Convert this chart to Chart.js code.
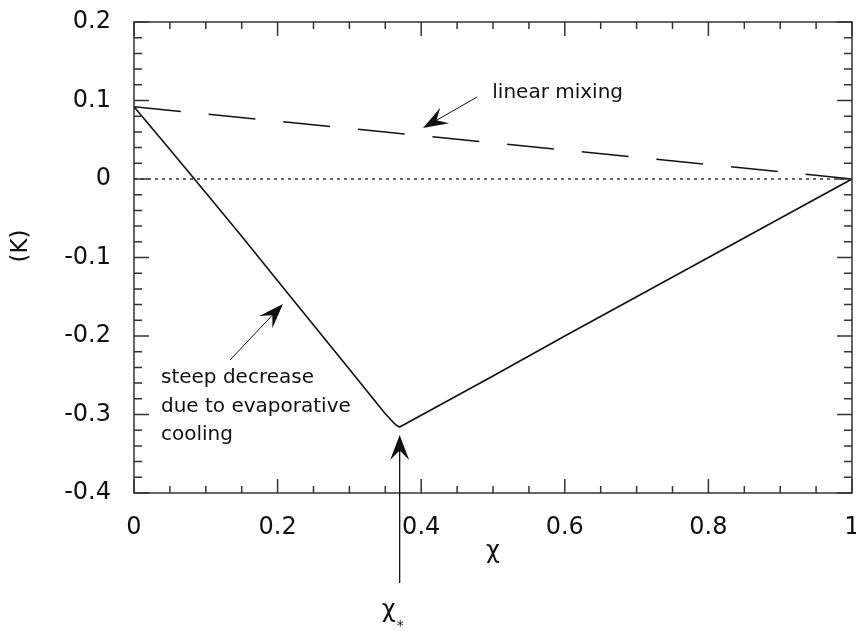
<!DOCTYPE html>
<html>
<head>
<meta charset="utf-8">
<script src="https://cdn.jsdelivr.net/npm/chart.js@4.4.0/dist/chart.umd.min.js"></script>
<style>
  html, body { margin: 0; padding: 0; background: #fff; }
  #wrap { position: relative; width: 856px; height: 631px; }
</style>
</head>
<body>
<div id="wrap"><canvas id="mixChart"></canvas></div>
<script>
  // mixing fraction chi and temperature excess of the mixture (K)
  const chi    = [0, 0.05, 0.1, 0.15, 0.2, 0.25, 0.3, 0.33, 0.35, 0.36, 0.365, 0.37, 0.4, 0.5, 0.6, 0.7, 0.8, 0.9, 1];
  const deltaT = [0.092, 0.0375, -0.0175, -0.073, -0.1295, -0.186, -0.2425, -0.2765, -0.299, -0.309, -0.3135, -0.316, -0.301, -0.251, -0.200, -0.150, -0.100, -0.050, 0];

  // straight line between the two end members
  const mixChi = [0, 1];
  const mixT   = [0.092, 0];

  const chiStar = 0.37;

  const xTicks = [0, 0.2, 0.4, 0.6, 0.8, 1];
  const xTickLabels = ['0', '0.2', '0.4', '0.6', '0.8', '1'];
  const yTicks = [-0.4, -0.3, -0.2, -0.1, 0, 0.1, 0.2];
  const yTickLabels = ['-0.4', '-0.3', '-0.2', '-0.1', '0', '0.1', '0.2'];

  const FONT = '"DejaVu Sans", Verdana, sans-serif';
  const INK = '#111';
  const FRAME = '#333';

  const toPoints = (xs, ys) => xs.map((v, i) => ({ x: v, y: ys[i] }));

  // keep the plot box fixed: no extra room for labels hanging past the ends
  const noOverhang = s => {
    s.paddingTop = 0; s.paddingBottom = 0;
    s.paddingLeft = 0; s.paddingRight = 0;
  };

  function arrow(ctx, x1, y1, x2, y2, len, half, width) {
    const ang = Math.atan2(y2 - y1, x2 - x1);
    ctx.lineWidth = width;
    ctx.beginPath();
    ctx.moveTo(x1, y1);
    ctx.lineTo(x2 - Math.cos(ang) * len * 0.6, y2 - Math.sin(ang) * len * 0.6);
    ctx.stroke();
    ctx.save();
    ctx.translate(x2, y2);
    ctx.rotate(ang);
    ctx.beginPath();
    ctx.moveTo(0, 0);
    ctx.lineTo(-len, -half);
    ctx.lineTo(-len * 0.62, 0);
    ctx.lineTo(-len, half);
    ctx.closePath();
    ctx.fill();
    ctx.restore();
  }

  // frame with inward ticks on all four sides, plus labels and arrows
  const decorations = {
    id: 'decorations',
    afterDatasetsDraw(chart) {
      const { ctx, chartArea: a, scales: { x, y } } = chart;
      ctx.save();
      ctx.strokeStyle = FRAME;
      ctx.lineWidth = 1.5;
      ctx.strokeRect(a.left, a.top, a.right - a.left, a.bottom - a.top);

      ctx.beginPath();
      for (let i = 0; i <= 20; i++) {
        const px = x.getPixelForValue(i * 0.05);
        const len = i % 4 === 0 ? 14 : 7;
        ctx.moveTo(px, a.bottom); ctx.lineTo(px, a.bottom - len);
        ctx.moveTo(px, a.top); ctx.lineTo(px, a.top + len);
      }
      for (let i = 0; i <= 30; i++) {
        const py = y.getPixelForValue(-0.4 + i * 0.02);
        const len = i % 5 === 0 ? 15 : 8;
        ctx.moveTo(a.left, py); ctx.lineTo(a.left + len, py);
        ctx.moveTo(a.right, py); ctx.lineTo(a.right - len, py);
      }
      ctx.stroke();

      ctx.fillStyle = INK;
      ctx.strokeStyle = INK;

      // axis titles
      ctx.font = '23px ' + FONT;
      ctx.textAlign = 'center';
      ctx.textBaseline = 'middle';
      ctx.save();
      ctx.translate(21, 246);
      ctx.rotate(-Math.PI / 2);
      ctx.fillText('(K)', 0, 0);
      ctx.restore();
      ctx.font = '24px ' + FONT;
      ctx.textBaseline = 'alphabetic';
      ctx.fillText('\u03C7', (a.left + a.right) / 2, 558);

      // annotations
      ctx.font = '20px ' + FONT;
      ctx.textAlign = 'left';
      ctx.fillText('linear mixing', x.getPixelForValue(0.499), y.getPixelForValue(0.103));
      const sx = x.getPixelForValue(0.0376);
      const sy = y.getPixelForValue(-0.26);
      ['steep decrease', 'due to evaporative', 'cooling'].forEach((t, i) => {
        ctx.fillText(t, sx, sy + i * 28.5);
      });

      arrow(ctx, x.getPixelForValue(0.478), y.getPixelForValue(0.1045),
                 x.getPixelForValue(0.4025), y.getPixelForValue(0.065), 25, 9, 1);
      arrow(ctx, x.getPixelForValue(0.1337), y.getPixelForValue(-0.2306),
                 x.getPixelForValue(0.2075), y.getPixelForValue(-0.1592), 25, 9, 1);

      // chi* marker below the minimum
      const cx = x.getPixelForValue(chiStar);
      arrow(ctx, cx, a.bottom + 90, cx, y.getPixelForValue(-0.326), 25, 9.5, 1.3);
      ctx.font = '24px ' + FONT;
      ctx.textAlign = 'left';
      ctx.fillText('\u03C7', cx - 18, 617);
      ctx.font = '14px ' + FONT;
      ctx.fillText('*', cx - 3, 630);
      ctx.restore();
    }
  };

  const ctx = document.getElementById('mixChart').getContext('2d');
  new Chart(ctx, {
    type: 'scatter',
    data: {
      datasets: [
        {
          data: toPoints([0, 1], [0, 0]),
          showLine: true,
          borderColor: '#333',
          borderWidth: 1.5,
          borderDash: [3, 4],
          pointRadius: 0
        },
        {
          data: toPoints(mixChi, mixT),
          showLine: true,
          borderColor: INK,
          borderWidth: 1.5,
          borderDash: [47, 28],
          pointRadius: 0
        },
        {
          data: toPoints(chi, deltaT),
          showLine: true,
          borderColor: INK,
          borderWidth: 1.6,
          pointRadius: 0
        }
      ]
    },
    options: {
      responsive: true,
      maintainAspectRatio: false,
      devicePixelRatio: 1,
      animation: false,
      layout: { autoPadding: false, padding: { top: 22, right: 4, left: 0, bottom: 0 } },
      plugins: { legend: { display: false }, tooltip: { enabled: false } },
      scales: {
        x: {
          type: 'linear',
          min: 0,
          max: 1,
          grid: { display: false, drawTicks: false },
          border: { display: false },
          afterFit: s => { s.height = 138; noOverhang(s); },
          afterBuildTicks: s => { s.ticks = xTicks.map(v => ({ value: v })); },
          ticks: {
            autoSkip: false,
            maxRotation: 0,
            padding: 20,
            color: INK,
            font: { family: FONT, size: 24 },
            callback: (v) => xTickLabels[xTicks.indexOf(v)]
          }
        },
        y: {
          type: 'linear',
          min: -0.4,
          max: 0.2,
          grid: { display: false, drawTicks: false },
          border: { display: false },
          afterFit: s => { s.width = 134; noOverhang(s); },
          afterBuildTicks: s => { s.ticks = yTicks.map(v => ({ value: v })); },
          ticks: {
            autoSkip: false,
            padding: 23,
            color: INK,
            font: { family: FONT, size: 24 },
            callback: (v) => yTickLabels[yTicks.indexOf(v)]
          }
        }
      }
    },
    plugins: [decorations]
  });
</script>
</body>
</html>
